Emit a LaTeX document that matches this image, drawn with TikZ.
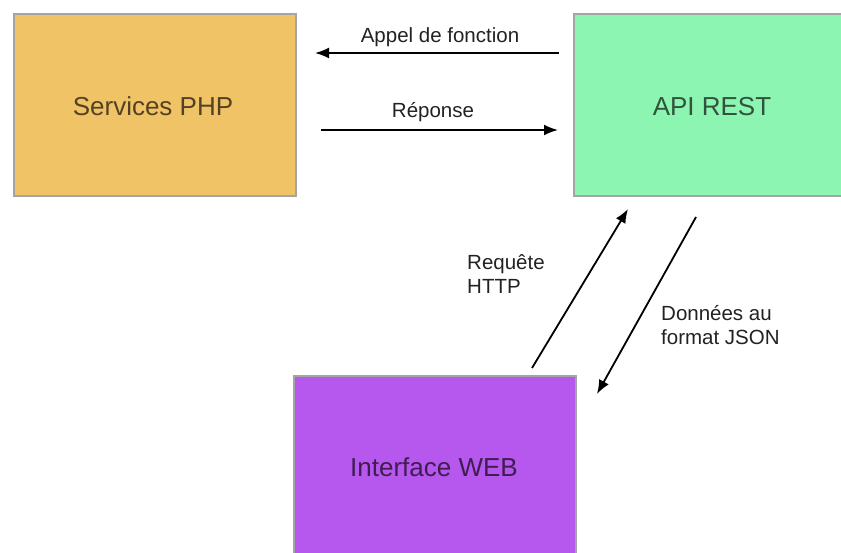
\documentclass[tikz,border=0pt]{standalone}
\usepackage{fontspec}
\setmainfont{Liberation Sans}
\usetikzlibrary{arrows.meta}
\definecolor{phpfill}{HTML}{F1C367}
\definecolor{apifill}{HTML}{8CF5B2}
\definecolor{webfill}{HTML}{B657EE}
\definecolor{boxline}{HTML}{A4A4A4}
\definecolor{labeltext}{HTML}{222222}
\tikzset{
  box/.style={draw=boxline, line width=1.8pt, inner sep=0pt, anchor=north west},
  boxlabel/.style={font=\fontsize{26}{30}\selectfont, text=black, text opacity=0.66, anchor=base, inner sep=0pt},
  lbl/.style={font=\fontsize{20.5}{24.5}\selectfont, text=labeltext, inner sep=0pt},
  conn/.style={line width=1.8pt, -{Latex[length=14pt,width=11pt]}},
}
\begin{document}
\begin{tikzpicture}[x=1pt,y=-1pt]
\useasboundingbox (0,0) rectangle (841,552);
\clip (0,0) rectangle (841,552);
% boxes
\node[box, fill=phpfill, minimum width=282pt, minimum height=182pt] (php) at (13,13) {};
\node[box, fill=apifill, minimum width=280pt, minimum height=182pt] (api) at (573,13) {};
\node[box, fill=webfill, minimum width=282pt, minimum height=190pt] (web) at (293,375) {};
% box labels
\node[boxlabel] (phpt) at (153,115) {Services PHP};
\node[boxlabel] (apit) at (712,115) {API REST};
\node[boxlabel] (webt) at (434,476) {Interface WEB};
% connector end points
\coordinate (a1s) at (559,53);
\coordinate (a1e) at (315,53);
\coordinate (a2s) at (321,130);
\coordinate (a2e) at (558,130);
\coordinate (a3s) at (532,368);
\coordinate (a3e) at (628,209);
\coordinate (a4s) at (696,217);
\coordinate (a4e) at (597,394);
% connectors
\draw[conn] (a1s) -- (a1e);
\draw[conn] (a2s) -- (a2e);
\draw[conn] (a3s) -- (a3e);
\draw[conn] (a4s) -- (a4e);
% connector labels
\node[lbl, anchor=base] (l1) at (440,42) {Appel de fonction};
\node[lbl, anchor=base] (l2) at (433,117) {Réponse};
\node[lbl, anchor=base west, align=left] (l3) at (467,293.5) {Requête\\HTTP};
\node[lbl, anchor=base west, align=left] (l4) at (661,344.5) {Données au\\format JSON};
\end{tikzpicture}
\end{document}
